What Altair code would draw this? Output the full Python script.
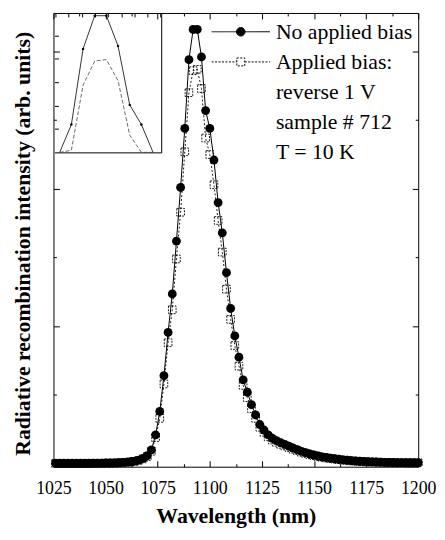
import altair as alt
import pandas as pd

# ---------------- data ----------------
wavelength = list(range(1026, 1201, 2))  # nm, 2 nm step

no_bias = [
    0.003, 0.003, 0.003, 0.003, 0.003, 0.003, 0.003, 0.003, 0.003, 0.004,
    0.004, 0.004, 0.005, 0.005, 0.006, 0.007, 0.009, 0.011, 0.014, 0.019,
    0.026, 0.038, 0.058, 0.10, 0.21, 0.38, 0.64, 0.955, 1.235, 1.62,
    2.01, 2.44, 2.94, 3.16, 3.16, 2.96, 2.57, 2.44, 2.21, 1.90,
    1.68, 1.39, 1.13, 0.93, 0.775, 0.61, 0.52, 0.43, 0.355, 0.285,
    0.245, 0.21, 0.185, 0.168, 0.153, 0.14, 0.127, 0.114, 0.102, 0.09,
    0.08, 0.071, 0.063, 0.056, 0.05, 0.045, 0.04, 0.036, 0.032, 0.028,
    0.025, 0.022, 0.02, 0.018, 0.016, 0.014, 0.013, 0.012, 0.011, 0.01,
    0.009, 0.009, 0.008, 0.008, 0.007, 0.007, 0.007, 0.007,
]

applied_bias = [
    0.002, 0.002, 0.002, 0.002, 0.002, 0.002, 0.002, 0.002, 0.002, 0.003,
    0.003, 0.003, 0.004, 0.004, 0.005, 0.006, 0.008, 0.010, 0.013, 0.017,
    0.024, 0.035, 0.052, 0.09, 0.19, 0.33, 0.58, 0.88, 1.12, 1.49,
    1.83, 2.27, 2.70, 2.86, 2.87, 2.73, 2.37, 2.25, 2.03, 1.77,
    1.54, 1.27, 1.05, 0.86, 0.71, 0.57, 0.48, 0.40, 0.33, 0.265,
    0.228, 0.195, 0.172, 0.155, 0.141, 0.129, 0.117, 0.105, 0.094, 0.083,
    0.074, 0.065, 0.058, 0.051, 0.046, 0.041, 0.037, 0.033, 0.029, 0.026,
    0.023, 0.020, 0.018, 0.016, 0.014, 0.013, 0.012, 0.011, 0.010, 0.009,
    0.008, 0.008, 0.007, 0.007, 0.006, 0.006, 0.006, 0.006,
]

x_labels = [1025, 1050, 1075, 1100, 1125, 1150, 1175, 1200]
x_ticks = [1025, 1037.5, 1050, 1062.5, 1075, 1087.5, 1100, 1112.5, 1125,
           1137.5, 1150, 1162.5, 1175, 1187.5, 1200]
y_ticks = [0, 0.5, 1, 1.5, 2, 2.5, 3]

inset_x_ticks = [1085.3, 1087.55, 1089.8, 1092.05, 1094.3, 1096.55, 1098.8, 1101.05, 1103.3]
inset_y_ticks = [3.03, 2.875, 2.72, 2.565, 2.41]

legend_labels = ["No applied bias", "Applied bias:", "reverse 1 V", "sample # 712", "T = 10 K"]

assert len(wavelength) == len(no_bias) == len(applied_bias)

# ---------------- layout ----------------
W, H = 369, 459
SERIF = "Times New Roman, Liberation Serif, serif"

df_a = pd.DataFrame({"nm": wavelength, "v": no_bias})
df_b = pd.DataFrame({"nm": wavelength, "v": applied_bias})
df_leg = pd.DataFrame({"label": legend_labels})

xs = alt.Scale(domain=[1025, 1200], nice=False, zero=False)
ys = alt.Scale(domain=[-0.022, 3.28], nice=False, zero=False)

tsx = {"condition": {"test": "datum.value % 25 === 0", "value": 6}, "value": 3}
tsy = {"condition": {"test": "datum.value % 1 === 0", "value": 6}, "value": 3}

common_tick = dict(labels=False, domain=False, grid=False, tickColor="black", tickWidth=1, title=None)

ax_x_lab = alt.Axis(orient="bottom", values=x_labels, ticks=False, tickSize=0, domain=False, grid=False,
                    labelFont=SERIF, labelFontSize=18, labelColor="black", labelPadding=13,
                    labelFlush=False, labelOverlap=False, format="d",
                    title="Wavelength (nm)", titleFont=SERIF, titleFontSize=22, titleFontWeight="bold",
                    titleColor="black", titlePadding=8.5)
ax_x_bot = alt.Axis(orient="top", offset=-H, values=x_ticks, tickSize=tsx, **common_tick)
ax_x_top = alt.Axis(orient="bottom", offset=-H, values=x_ticks, tickSize=tsx, **common_tick)

ax_y_lab = alt.Axis(orient="left", labels=False, ticks=False, domain=False, grid=False,
                    title="Radiative recombination intensity (arb. units)", titleFont=SERIF,
                    titleFontSize=22, titleFontWeight="bold", titleColor="black",
                    titlePadding=19, titleY=233)
ax_y_left = alt.Axis(orient="right", offset=-W, values=y_ticks, tickSize=tsy, **common_tick)
ax_y_right = alt.Axis(orient="left", offset=-W, values=y_ticks, tickSize=tsy, **common_tick)

bias_line = alt.Chart(df_b).mark_line(color="black", strokeWidth=0.9, strokeDash=[2, 2]).encode(
    x=alt.X("nm:Q", scale=xs, axis=ax_x_lab),
    y=alt.Y("v:Q", scale=ys, axis=ax_y_lab),
)
bias_pts = alt.Chart(df_b).mark_point(shape="square", filled=False, size=60, color="black",
                                      strokeWidth=0.9, strokeDash=[2, 1.2], opacity=1).encode(
    x=alt.X("nm:Q", scale=xs, axis=ax_x_bot),
    y=alt.Y("v:Q", scale=ys, axis=ax_y_left),
)
main_line = alt.Chart(df_a).mark_line(color="black", strokeWidth=1).encode(
    x=alt.X("nm:Q", scale=xs, axis=ax_x_top),
    y=alt.Y("v:Q", scale=ys, axis=ax_y_right),
)
main_pts = alt.Chart(df_a).mark_circle(size=80, color="black", opacity=1).encode(
    x=alt.X("nm:Q", scale=xs, axis=None),
    y=alt.Y("v:Q", scale=ys, axis=None),
)

# legend symbols: a 59 px line with the marker in the middle (unit = sqrt(400)/2 = 10 px)
circle_path = "M-2.95,0H2.95M0.43,0A0.43,0.43,0,1,1,-0.43,0A0.43,0.43,0,1,1,0.43,0Z"
square_path = "M-2.95,0H-0.4M0.4,0H2.95M-0.4,-0.4H0.4V0.4H-0.4Z"
blank_path = "M0,0"

leg = alt.Legend(orient="none", legendX=159 + 19.5, legendY=8, title=None, padding=0,
                 labelFont=SERIF, labelFontSize=22, labelColor="black", labelLimit=400,
                 labelOffset=24.5, symbolSize=400, symbolStrokeWidth=1, symbolStrokeColor="black",
                 symbolOpacity=1, rowPadding=8.5)

legend_layer = alt.Chart(df_leg).mark_point(opacity=0, filled=True).encode(
    shape=alt.Shape("label:N", scale=alt.Scale(domain=legend_labels,
                    range=[circle_path, square_path, blank_path, blank_path, blank_path]), legend=leg),
    fill=alt.Fill("label:N", scale=alt.Scale(domain=legend_labels,
                  range=["black", "white", "white", "white", "white"]), legend=leg),
    stroke=alt.Stroke("label:N", scale=alt.Scale(domain=legend_labels,
                      range=["black", "black", "black", "black", "black"]), legend=leg),
    strokeDash=alt.StrokeDash("label:N", scale=alt.Scale(domain=legend_labels,
                              range=[[1, 0], [2, 1.5], [1, 0], [1, 0], [1, 0]]), legend=leg),
)

main = alt.layer(bias_line, bias_pts, main_line, main_pts, legend_layer).resolve_axis(
    x="independent", y="independent")

# ---------------- inset (zoom on the peak) ----------------
ixs = alt.Scale(domain=[1085.1, 1103.4], range=[1, 109], clamp=True, nice=False, zero=False)
iys = alt.Scale(domain=[2.256, 3.178], range=[141, 0], clamp=True, nice=False, zero=False)

in_tick = dict(labels=False, domain=False, grid=False, tickColor="black", tickSize=4, tickWidth=1, title=None)
in_frame = dict(labels=False, ticks=False, grid=False, domain=True, domainColor="black", domainWidth=1, title=None)

inset_main = alt.Chart(df_a).transform_filter("datum.nm >= 1086 && datum.nm <= 1102").mark_line(
    color="black", strokeWidth=0.8).encode(
    x=alt.X("nm:Q", scale=ixs, axis=alt.Axis(orient="bottom", offset=-H, values=inset_x_ticks, **in_tick)),
    y=alt.Y("v:Q", scale=iys, axis=alt.Axis(orient="right", offset=-(W - 1), values=inset_y_ticks, **in_tick)),
)
inset_dots = alt.Chart(df_a).transform_filter("datum.nm >= 1088 && datum.nm <= 1100").mark_circle(
    size=6, color="black", opacity=1).encode(
    x=alt.X("nm:Q", scale=ixs, axis=None),
    y=alt.Y("v:Q", scale=iys, axis=None),
)
inset_bias = alt.Chart(df_b).transform_filter("datum.nm >= 1086 && datum.nm <= 1102").mark_line(
    color="#444444", strokeWidth=0.8, strokeDash=[4, 2]).encode(
    x=alt.X("nm:Q", scale=ixs, axis=alt.Axis(orient="bottom", offset=-(H - 141), **in_frame)),
    y=alt.Y("v:Q", scale=iys, axis=alt.Axis(orient="left", offset=-109, **in_frame)),
)
inset = alt.layer(inset_main, inset_dots, inset_bias).resolve_axis(x="independent", y="independent")

chart = alt.layer(main, inset).resolve_scale(x="independent", y="independent").properties(
    width=W, height=H,
    autosize=alt.AutoSizeParams(type="none"),
    padding={"left": 46, "top": 2, "right": 19, "bottom": 62},
    background="white",
).configure_view(stroke="black", strokeWidth=1)

chart.save("out.html", embed_options={"renderer": "svg", "actions": False})
